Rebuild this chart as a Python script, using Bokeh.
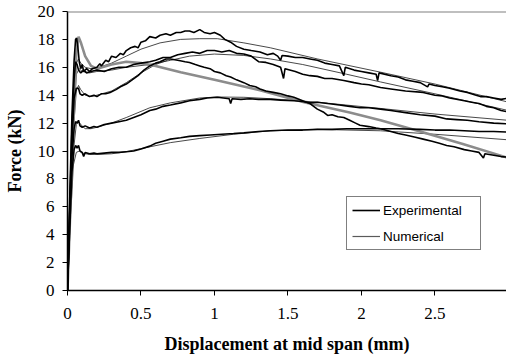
from bokeh.plotting import figure
from bokeh.models import Range1d, FixedTicker, Legend, LegendItem, Span, Label
from bokeh.embed import file_html
from bokeh.resources import INLINE

# ---------------- data ----------------
x_ticks = [0, 0.5, 1, 1.5, 2, 2.5, 3]
x_tick_labels = ["0", "0.5", "1", "1.5", "2", "2.5", "3"]
y_ticks = [0, 2, 4, 6, 8, 10, 12, 14, 16, 18, 20]

exp1_x = [0, 0.015, 0.03, 0.045, 0.055, 0.062, 0.07, 0.08, 0.09, 0.1, 0.11, 0.13, 0.15, 0.17, 0.2, 0.22, 0.23, 0.26,
          0.28, 0.3, 0.33, 0.36, 0.38, 0.4, 0.43, 0.46, 0.48, 0.5, 0.53, 0.56, 0.6, 0.63, 0.67, 0.7, 0.74, 0.77,
          0.8, 0.83, 0.86, 0.9, 0.93, 0.97, 1.0, 1.04, 1.07, 1.11, 1.15, 1.2, 1.25, 1.31, 1.36, 1.4, 1.43, 1.45,
          1.46, 1.5, 1.55, 1.6, 1.65, 1.7, 1.75, 1.8, 1.85, 1.88, 1.89, 1.95, 2.0, 2.05, 2.1, 2.11, 2.12, 2.2,
          2.25, 2.3, 2.35, 2.4, 2.45, 2.46, 2.5, 2.55, 2.6, 2.67, 2.72, 2.78, 2.81, 2.85, 2.9, 2.95, 3.0]
exp1_y = [0, 6.5, 12.5, 16.5, 18.0, 18.1, 17.5, 16.4, 15.9, 16.2, 15.7, 15.9, 15.7, 15.9, 16.0, 16.25, 16.1, 16.5,
          16.4, 16.8, 16.7, 17.0, 16.9, 17.2, 17.4, 17.5, 17.4, 17.8, 17.9, 18.2, 18.1, 18.3, 18.4, 18.3, 18.5,
          18.5, 18.6, 18.6, 18.5, 18.7, 18.5, 18.4, 18.5, 18.3, 18.0, 17.8, 17.5, 17.3, 17.2, 17.1, 16.9, 17.0,
          16.8, 16.5, 16.85, 16.8, 16.7, 16.7, 16.6, 16.5, 16.3, 16.2, 16.1, 15.4, 16.0, 15.8, 15.7, 15.6, 15.5,
          15.05, 15.6, 15.4, 15.3, 15.1, 15.0, 14.9, 14.6, 14.8, 14.7, 14.6, 14.5, 14.3, 14.2, 14.0, 13.9, 13.9,
          13.8, 13.7, 13.8]

exp2_x = [0, 0.015, 0.03, 0.045, 0.055, 0.065, 0.075, 0.09, 0.11, 0.13, 0.16, 0.2, 0.25, 0.3, 0.35, 0.4, 0.45, 0.5,
          0.56, 0.6, 0.65, 0.7, 0.75, 0.8, 0.85, 0.9, 0.95, 1.0, 1.05, 1.1, 1.15, 1.2, 1.25, 1.3, 1.35, 1.4, 1.45,
          1.47, 1.48, 1.55, 1.6, 1.65, 1.7, 1.75, 1.8, 1.88, 1.95, 2.0, 2.05, 2.13, 2.2, 2.3, 2.42, 2.5, 2.55, 2.6,
          2.7, 2.75, 2.8, 2.85, 2.9, 2.95, 3.0]
exp2_y = [0, 6, 11.5, 15.2, 16.4, 16.2, 15.8, 15.6, 15.8, 15.6, 15.7, 15.8, 15.7, 15.9, 16.0, 16.0, 16.2, 16.3,
          16.4, 16.5, 16.7, 16.7, 16.9, 17.0, 17.1, 17.0, 17.2, 17.2, 17.1, 17.2, 17.0, 16.95, 16.8, 16.4, 16.35,
          16.2, 16.0, 15.2, 15.9, 15.7, 15.5, 15.4, 15.35, 15.2, 15.2, 15.05, 14.9, 14.8, 14.75, 14.55, 14.45,
          14.3, 14.2, 14.0, 13.95, 13.8, 13.6, 13.5, 13.4, 13.2, 13.1, 12.9, 12.8]

exp3_x = [0, 0.015, 0.03, 0.045, 0.06, 0.075, 0.085, 0.1, 0.12, 0.15, 0.18, 0.2, 0.23, 0.26, 0.29, 0.33, 0.36, 0.4,
          0.44, 0.48, 0.52, 0.56, 0.6, 0.63, 0.67, 0.7, 0.75, 0.8, 0.83, 0.87, 0.9, 0.93, 0.97, 1.0, 1.04, 1.08,
          1.11, 1.15, 1.2, 1.24, 1.28, 1.31, 1.35, 1.4, 1.45, 1.5, 1.54, 1.6, 1.65, 1.7, 1.74, 1.77, 1.8, 1.84,
          1.88, 1.92, 1.96, 1.99, 2.05, 2.1, 2.13, 2.2, 2.25, 2.3, 2.36, 2.42, 2.48, 2.53, 2.58, 2.63, 2.7, 2.75,
          2.8, 2.83, 2.84, 2.9, 2.95, 3.0]
exp3_y = [0, 5.5, 10.5, 13.8, 14.5, 14.5, 14.1, 14.0, 14.1, 13.9, 14.0, 13.9, 14.1, 14.1, 14.2, 14.4, 14.6, 14.8,
          15.1, 15.4, 15.8, 16.1, 16.3, 16.4, 16.6, 16.6, 16.5, 16.4, 16.35, 16.2, 16.1, 16.0, 15.9, 15.7, 15.6,
          15.4, 15.3, 15.1, 14.9, 14.7, 14.6, 14.45, 14.3, 14.2, 14.1, 13.95, 13.85, 13.6, 13.4, 13.0, 12.8, 12.55,
          12.6, 12.45, 12.4, 12.2, 12.0, 11.85, 11.75, 11.65, 11.6, 11.4, 11.25, 11.15, 11.0, 10.85, 10.7, 10.55,
          10.4, 10.3, 10.1, 10.0, 9.9, 9.5, 9.8, 9.7, 9.6, 9.55]

exp4_x = [0, 0.015, 0.03, 0.045, 0.055, 0.065, 0.075, 0.085, 0.1, 0.12, 0.15, 0.18, 0.2, 0.25, 0.3, 0.35, 0.4, 0.45,
          0.5, 0.56, 0.6, 0.65, 0.7, 0.77, 0.83, 0.9, 0.95, 1.02, 1.06, 1.1, 1.11, 1.12, 1.18, 1.24, 1.3, 1.38,
          1.45, 1.54, 1.6, 1.65, 1.7, 1.77, 1.85, 1.92, 1.99, 2.05, 2.13, 2.2, 2.3, 2.4, 2.5, 2.58, 2.65, 2.72,
          2.8, 2.9, 3.0]
exp4_y = [0, 5, 9.5, 11.6, 12.1, 12.0, 12.2, 11.8, 11.7, 11.8, 11.65, 11.75, 11.7, 11.9, 12.0, 12.1, 12.2, 12.4,
          12.6, 12.9, 13.0, 13.2, 13.3, 13.45, 13.6, 13.7, 13.8, 13.85, 13.8, 13.75, 13.4, 13.75, 13.7, 13.75,
          13.7, 13.7, 13.65, 13.6, 13.55, 13.45, 13.5, 13.4, 13.3, 13.2, 13.1, 13.1, 13.0, 12.9, 12.75, 12.6, 12.5,
          12.3, 12.25, 12.2, 12.1, 12.0, 11.95]

exp5_x = [0, 0.015, 0.03, 0.045, 0.055, 0.065, 0.075, 0.085, 0.1, 0.11, 0.12, 0.15, 0.18, 0.2, 0.25, 0.3, 0.35,
          0.4, 0.45, 0.5, 0.56, 0.6, 0.65, 0.7, 0.77, 0.83, 0.9, 0.97, 1.05, 1.13, 1.2, 1.3, 1.38, 1.5, 1.6, 1.7,
          1.8, 1.9, 2.0, 2.13, 2.25, 2.4, 2.5, 2.6, 2.7, 2.8, 2.9, 3.0]
exp5_y = [0, 4.5, 8.5, 10.1, 10.4, 10.2, 10.4, 10.0, 9.9, 9.6, 9.9, 9.8, 9.85, 9.8, 9.85, 9.9, 9.9,
          9.95, 10.0, 10.15, 10.35, 10.55, 10.7, 10.85, 10.95, 11.05, 11.1, 11.15, 11.2, 11.25, 11.3, 11.4, 11.45,
          11.5, 11.5, 11.55, 11.55, 11.6, 11.6, 11.6, 11.6, 11.55, 11.5, 11.5, 11.45, 11.4, 11.4, 11.35]

num1_x = [0, 0.02, 0.04, 0.06, 0.075, 0.09, 0.12, 0.16, 0.2, 0.3, 0.4, 0.5, 0.63, 0.77, 0.9, 1.02, 1.2, 1.38, 1.7,
          2.13, 2.5, 3.0]
num1_y = [0, 7, 13, 16.3, 16.6, 16.3, 16.0, 15.9, 15.95, 16.3, 16.8, 17.3, 17.75, 18.0, 18.05, 18.05, 17.75, 17.4,
          16.6, 15.65, 14.8, 13.5]

num2_x = [0, 0.02, 0.04, 0.06, 0.08, 0.1, 0.15, 0.2, 0.3, 0.4, 0.56, 0.7, 0.83, 1.0, 1.2, 1.38, 1.6, 1.9, 2.13,
          2.5, 3.0]
num2_y = [0, 6.5, 12, 15.5, 15.9, 15.7, 15.6, 15.7, 15.8, 16.0, 16.2, 16.5, 16.8, 16.95, 16.85, 16.6, 16.2, 15.5,
          14.95, 14.1, 12.9]

num3_x = [0, 0.02, 0.04, 0.06, 0.075, 0.09, 0.12, 0.16, 0.2, 0.3, 0.4, 0.5, 0.6, 0.68]
num3_y = [0, 6, 11.5, 14.3, 14.7, 14.4, 14.0, 13.9, 14.0, 14.3, 14.9, 15.6, 16.2, 16.5]

num4_x = [0, 0.02, 0.04, 0.06, 0.075, 0.09, 0.12, 0.16, 0.2, 0.3, 0.4, 0.56, 0.7, 0.9, 1.02, 1.2, 1.38, 1.7,
          2.13, 2.5, 3.0]
num4_y = [0, 5.5, 10, 11.9, 12.1, 11.9, 11.6, 11.6, 11.7, 12.0, 12.4, 13.1, 13.45, 13.8, 13.87, 13.85, 13.75,
          13.5, 13.05, 12.65, 12.2]

num5_x = [0, 0.02, 0.04, 0.06, 0.08, 0.1, 0.15, 0.2, 0.3, 0.4, 0.56, 0.7, 0.9, 1.13, 1.38, 1.7, 2.13, 2.5, 3.0]
num5_y = [0, 5, 9, 9.9, 10.0, 9.85, 9.75, 9.75, 9.8, 9.95, 10.3, 10.6, 10.9, 11.2, 11.45, 11.55, 11.45, 11.2, 10.8]

grey_x = [0, 0.02, 0.04, 0.06, 0.075, 0.09, 0.12, 0.16, 0.2, 0.3, 0.4, 0.5, 0.6, 0.77, 1.0, 1.31, 1.61, 1.92,
          2.13, 2.4, 2.69, 3.0]
grey_y = [0, 6, 12, 17, 18.2, 17.8, 16.8, 16.1, 15.9, 16.2, 16.4, 16.3, 16.1, 15.65, 15.1, 14.35, 13.5, 12.76,
          12.2, 11.4, 10.5, 9.5]

# ---------------- figure ----------------
SERIF = "Liberation Serif"
SANS = "Liberation Sans"

p = figure(width=506, height=361, output_backend="svg", toolbar_location=None,
           x_range=Range1d(0, 2.987), y_range=Range1d(0, 20),
           min_border_left=67, min_border_right=0, min_border_top=11, min_border_bottom=71)
p.outline_line_color = None
p.xgrid.visible = False
p.ygrid.visible = False
p.background_fill_color = "white"
p.border_fill_color = "white"

p.xaxis.ticker = FixedTicker(ticks=x_ticks)
p.xaxis.major_label_overrides = {t: l for t, l in zip(x_ticks, x_tick_labels)}
p.yaxis.ticker = FixedTicker(ticks=y_ticks)
for ax in (p.xaxis[0], p.yaxis[0]):
    ax.axis_line_color = "black"
    ax.axis_line_width = 1.5
    ax.major_tick_line_color = "black"
    ax.major_tick_in = 0
    ax.major_tick_out = 5
    ax.minor_tick_line_color = None
    ax.major_label_text_font = SERIF
    ax.major_label_text_font_size = "17px"
    ax.major_label_text_color = "black"
    ax.axis_label_text_font = SERIF
    ax.axis_label_text_font_style = "bold"
    ax.axis_label_text_font_size = "18px"
    ax.axis_label_text_color = "black"

p.xaxis.axis_label = "Displacement at mid span (mm)"
p.yaxis.axis_label = "Force (kN)"
p.xaxis.major_label_standoff = 12
p.xaxis.axis_label_standoff = 12
p.yaxis.major_label_standoff = 8
p.yaxis.axis_label_standoff = 10

p.add_layout(Span(location=20, dimension="width", line_color="#808080", line_width=2))

num_style = dict(line_color="#1a1a1a", line_width=0.8)
exp_style = dict(line_color="black", line_width=1.6)

n_rs = []
for xs, ys in [(num1_x, num1_y), (num2_x, num2_y), (num3_x, num3_y), (num4_x, num4_y), (num5_x, num5_y)]:
    n_rs.append(p.line(xs, ys, **num_style))
p.line(grey_x, grey_y, line_color="#8c8c8c", line_width=2.6)
e_rs = []
for xs, ys in [(exp1_x, exp1_y), (exp2_x, exp2_y), (exp3_x, exp3_y), (exp4_x, exp4_y), (exp5_x, exp5_y)]:
    e_rs.append(p.line(xs, ys, **exp_style))

# off-range line used only as the legend's "Numerical" sample
leg_num = p.line([-1.0, -0.9], [-5.0, -5.0], line_color="#5a5a5a", line_width=1.2)

legend = Legend(items=[LegendItem(label="Experimental", renderers=[e_rs[0]]),
                       LegendItem(label="Numerical", renderers=[leg_num])],
                location=(279, 40), orientation="vertical",
                border_line_color="black", border_line_width=1,
                background_fill_color="white", background_fill_alpha=1,
                label_text_font=SANS, label_text_font_size="13.5px", label_text_color="black",
                glyph_width=28, glyph_height=16, label_height=16, label_width=92,
                label_standoff=3, spacing=10, padding=5, margin=0)
p.add_layout(legend)

p.add_layout(Label(x=3.0, y=-1.45, text="3", text_align="center", text_baseline="top",
                   text_font=SERIF, text_font_size="17px", text_color="black"))

open("out.html", "w").write(file_html(p, INLINE))
